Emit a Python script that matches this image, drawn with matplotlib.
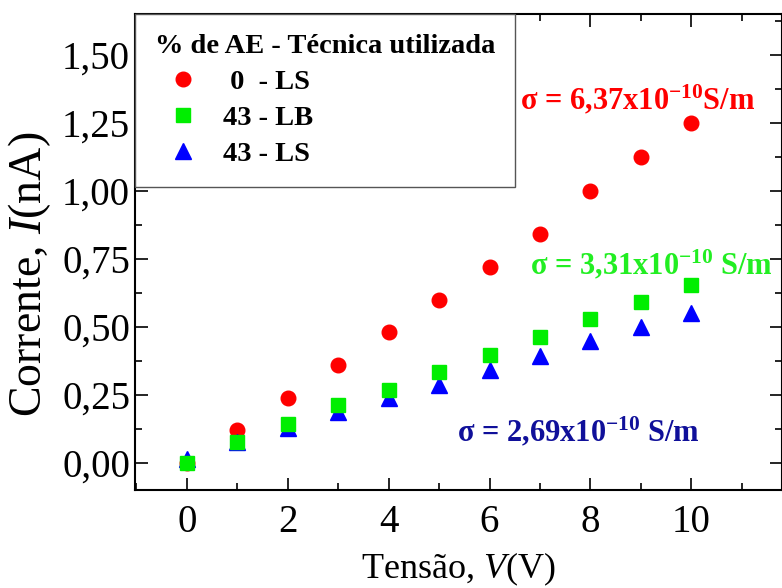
import matplotlib.pyplot as plt
from matplotlib.ticker import MultipleLocator, FuncFormatter

plt.rcParams['font.family'] = ['Liberation Serif', 'DejaVu Serif']
plt.rcParams['mathtext.fontset'] = 'custom'
plt.rcParams['mathtext.rm'] = 'Liberation Serif'
plt.rcParams['mathtext.it'] = 'Liberation Serif:italic'
plt.rcParams['mathtext.bf'] = 'Liberation Serif:bold'

# data
tensao = [0, 1, 2, 3, 4, 5, 6, 7, 8, 9, 10]
ls_0 = [0.0, 0.12, 0.24, 0.36, 0.48, 0.60, 0.72, 0.84, 1.00, 1.125, 1.25]
lb_43 = [0.0, 0.077, 0.143, 0.213, 0.268, 0.334, 0.397, 0.463, 0.529, 0.592, 0.654]
ls_43 = [0.015, 0.078, 0.128, 0.187, 0.24, 0.287, 0.34, 0.393, 0.446, 0.50, 0.55]
labels = [' 0  - LS', '43 - LB', '43 - LS']
sigmas = ['σ = 6,37x10$^{\\mathbf{-10}}$S/m',
          'σ = 3,31x10$^{\\mathbf{-10}}$ S/m',
          'σ = 2,69x10$^{\\mathbf{-10}}$ S/m']

fig = plt.figure(figsize=(7.82, 5.88), dpi=100)
ax = fig.add_axes([0.1726, 0.1667, 0.8274, 0.8095])

ax.plot(tensao, ls_0, 'o', color='#ff0000', ms=10.5, label=labels[0], zorder=1.8)
ax.plot(tensao, lb_43, 's', color='#00ee00', ms=9.5, label=labels[1], zorder=2)
ax.plot(tensao, ls_43, '^', color='#0000ff', ms=11.5, label=labels[2], zorder=1.9)

ax.set_xlim(-1.03, 11.8)
ax.set_ylim(-0.1, 1.65)
ax.xaxis.set_major_locator(MultipleLocator(2))
ax.xaxis.set_minor_locator(MultipleLocator(1))
ax.yaxis.set_major_locator(MultipleLocator(0.25))
ax.yaxis.set_minor_locator(MultipleLocator(0.125))
ax.yaxis.set_major_formatter(FuncFormatter(lambda v, p: f'{v:.2f}'.replace('.', ',')))
ax.tick_params(which='both', direction='in', top=True, right=True, labelsize=28, width=1.2)
ax.tick_params(which='major', length=9)
ax.tick_params(which='minor', length=5)
ax.tick_params(axis='x', pad=10)
for s in ax.spines.values():
    s.set_linewidth(1.5)

fig.text(458 / 782, 1 - 569 / 588, 'Tensão, $V$(V)', fontsize=26, ha='center', va='center')
fig.text(30 / 782, 1 - 274 / 588, 'Corrente, $I$(nA)', fontsize=33, rotation=90,
         ha='center', va='center')

ax.text(6.6, 1.335, sigmas[0], color='#ff0000', fontsize=22, fontweight='bold', va='center')
ax.text(6.8, 0.73, sigmas[1], color='#22ee22', fontsize=22, fontweight='bold', va='center')
ax.text(5.35, 0.115, sigmas[2], color='#10109a', fontsize=22, fontweight='bold', va='center')

leg = ax.legend(loc='upper left', bbox_to_anchor=(0, 1), borderaxespad=0,
                title='% de AE - Técnica utilizada', fancybox=False,
                edgecolor='#555555', framealpha=1, handletextpad=0.4,
                labelspacing=0.35, borderpad=0.7, alignment='left',
                prop={'size': 20.5, 'weight': 'bold'},
                title_fontproperties={'size': 20.5, 'weight': 'bold'})
leg.get_frame().set_linewidth(1.0)

plt.savefig('out.png', dpi=100)
